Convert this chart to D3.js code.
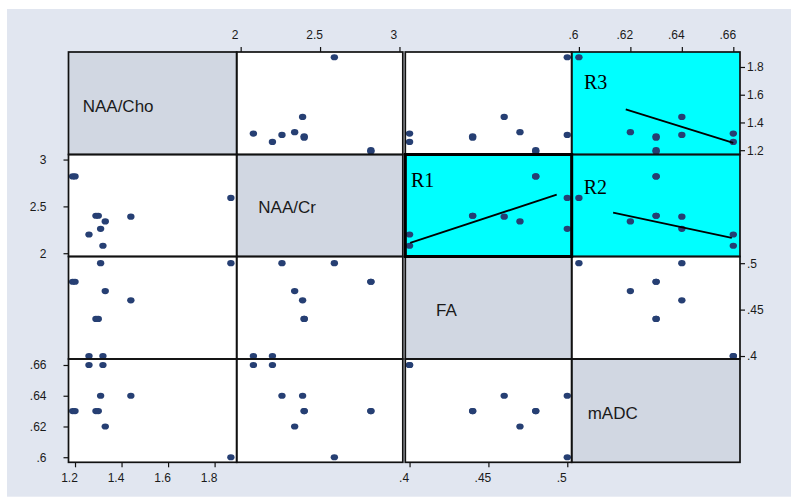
<!DOCTYPE html>
<html>
<head>
<meta charset="utf-8">
<script src="https://cdn.jsdelivr.net/npm/d3@7"></script>
<style>
  body { margin: 0; background: #fff; }
  svg text { font-family: "Liberation Sans", Arial, sans-serif; }
</style>
</head>
<body>
<script>
// variables of the scatter matrix, one value per subject
const varNames = ["NAA/Cho", "NAA/Cr", "FA", "mADC"];
const naaCho = [1.19, 1.20, 1.26, 1.29, 1.30, 1.31, 1.32, 1.33, 1.44, 1.87];
const naaCr  = [2.82, 2.82, 2.20, 2.40, 2.40, 2.26, 2.08, 2.34, 2.39, 2.59];
const fa     = [0.48, 0.48, 0.40, 0.44, 0.44, 0.50, 0.40, 0.47, 0.46, 0.50];
const madc   = [0.63, 0.63, 0.66, 0.63, 0.63, 0.64, 0.66, 0.62, 0.64, 0.60];

// axis ranges (data units) used across / down the matrix
const xRanges = [[1.172, 1.895], [1.975, 3.021], [0.3973, 0.5028], [0.5972, 0.6626]];
const yRanges = [[1.169, 1.908], [1.965, 3.054], [0.3968, 0.5072], [0.5967, 0.6639]];
const tickVals = [[1.2, 1.4, 1.6, 1.8], [2, 2.5, 3], [0.4, 0.45, 0.5], [0.6, 0.62, 0.64, 0.66]];

// highlighted cells and their hand drawn trend lines
const highlights = [
  {row: 1, col: 2, label: "R1"},
  {row: 1, col: 3, label: "R2"},
  {row: 0, col: 3, label: "R3"}
];
const fitLines = [
  {row: 1, col: 2, x: [0.4004, 0.4933], y: [2.111, 2.625]},
  {row: 1, col: 3, x: [0.6133, 0.6594], y: [2.4325, 2.165]},
  {row: 0, col: 3, x: [0.6182, 0.6600], y: [1.495, 1.2526]}
];

const columns = [naaCho, naaCr, fa, madc];

// layout of the cells
const W = 791, H = 498;
const colX0 = [68.5, 236.7, 405.3, 571.7],
      colX1 = [236.7, 402.8, 571.7, 740];
const rowY0 = [52, 154.5, 256.5, 359],
      rowY1 = [154.5, 256.5, 359, 462.3];
const diagDx = [14.2, 21.6, 30.7, 16],
      diagDy = [60, 58.5, 59, 60];
const rLabelPos = {R1: [5.7, 32.5], R2: [12, 39], R3: [12.3, 37]};

const svg = d3.select("body").append("svg")
    .attr("width", W)
    .attr("height", H);

svg.append("rect")
    .attr("x", 7).attr("y", 9)
    .attr("width", W - 7).attr("height", H - 9 - 1.3)
    .attr("fill", "#e1e6f0");

const xScale = (c) => d3.scaleLinear().domain(xRanges[c]).range([colX0[c], colX1[c]]);
const yScale = (r) => d3.scaleLinear().domain(yRanges[r]).range([rowY1[r], rowY0[r]]);

const isHi = (r, c) => highlights.find(h => h.row === r && h.col === c);
const fmt = d => String(d).replace(/^0\./, ".");

// cells
for (let r = 0; r < 4; r++) {
  for (let c = 0; c < 4; c++) {
    const g = svg.append("g");
    g.append("rect")
        .attr("x", colX0[c]).attr("y", rowY0[r])
        .attr("width", colX1[c] - colX0[c]).attr("height", rowY1[r] - rowY0[r])
        .attr("fill", r === c ? "#d1d7e2" : (isHi(r, c) ? "#00ffff" : "#ffffff"));

    if (r === c) {
      g.append("text")
          .attr("x", colX0[c] + diagDx[c])
          .attr("y", rowY0[r] + diagDy[r])
          .attr("font-size", 17)
          .attr("fill", "#1a1a1a")
          .text(varNames[c]);
      continue;
    }
    const x = xScale(c), y = yScale(r);
    g.selectAll("ellipse")
      .data(d3.range(naaCho.length))
      .join("ellipse")
        .attr("cx", i => x(columns[c][i]))
        .attr("cy", i => y(columns[r][i]))
        .attr("rx", 3.7)
        .attr("ry", 3.1)
        .attr("fill", "#263f73");
  }
}

// trend lines
fitLines.forEach(f => {
  const x = xScale(f.col), y = yScale(f.row);
  svg.append("line")
      .attr("x1", x(f.x[0])).attr("y1", y(f.y[0]))
      .attr("x2", x(f.x[1])).attr("y2", y(f.y[1]))
      .attr("stroke", "#000")
      .attr("stroke-width", 1.8);
});

// R labels (serif)
highlights.forEach(h => {
  const p = rLabelPos[h.label];
  svg.append("text")
      .attr("x", colX0[h.col] + p[0])
      .attr("y", rowY0[h.row] + p[1])
      .style("font-family", "'Liberation Serif', 'Times New Roman', serif")
      .attr("font-size", 20)
      .attr("fill", "#000")
      .text(h.label);
});

// cell borders
for (let r = 0; r < 4; r++) {
  for (let c = 0; c < 4; c++) {
    svg.append("rect")
        .attr("x", colX0[c]).attr("y", rowY0[r])
        .attr("width", colX1[c] - colX0[c]).attr("height", rowY1[r] - rowY0[r])
        .attr("fill", "none")
        .attr("stroke", "#111")
        .attr("stroke-width", 1.7);
  }
}
// thick frame round R1
svg.append("rect")
    .attr("x", colX0[2]).attr("y", rowY0[1])
    .attr("width", colX1[2] - colX0[2]).attr("height", rowY1[1] - rowY0[1])
    .attr("fill", "none")
    .attr("stroke", "#000")
    .attr("stroke-width", 3);

// axes: top on cols 2,4 ; bottom on cols 1,3 ; left on rows 2,4 ; right on rows 1,3
function styleAxis(g) {
  g.select(".domain").remove();
  g.selectAll("line").attr("stroke", "#111").attr("stroke-width", 1.2);
  g.selectAll("text").attr("font-size", 12).attr("fill", "#1a1a1a");
}

[1, 3].forEach(c => {
  svg.append("g")
      .attr("transform", `translate(0,${rowY0[0]})`)
      .call(d3.axisTop(xScale(c)).tickValues(tickVals[c]).tickFormat(fmt).tickSize(5).tickPadding(8))
      .call(styleAxis)
      .selectAll("text").attr("dx", -6);
});
[0, 2].forEach(c => {
  svg.append("g")
      .attr("transform", `translate(0,${rowY1[3]})`)
      .call(d3.axisBottom(xScale(c)).tickValues(tickVals[c]).tickFormat(fmt).tickSize(5).tickPadding(6))
      .call(styleAxis)
      .selectAll("text").attr("dx", -6);
});
[1, 3].forEach(r => {
  svg.append("g")
      .attr("transform", `translate(${colX0[0]},0)`)
      .call(d3.axisLeft(yScale(r)).tickValues(tickVals[r]).tickFormat(fmt).tickSize(5).tickPadding(17))
      .call(styleAxis);
});
[0, 2].forEach(r => {
  svg.append("g")
      .attr("transform", `translate(${colX1[3]},0)`)
      .call(d3.axisRight(yScale(r)).tickValues(tickVals[r]).tickFormat(fmt).tickSize(5).tickPadding(2))
      .call(styleAxis);
});
</script>
</body>
</html>
